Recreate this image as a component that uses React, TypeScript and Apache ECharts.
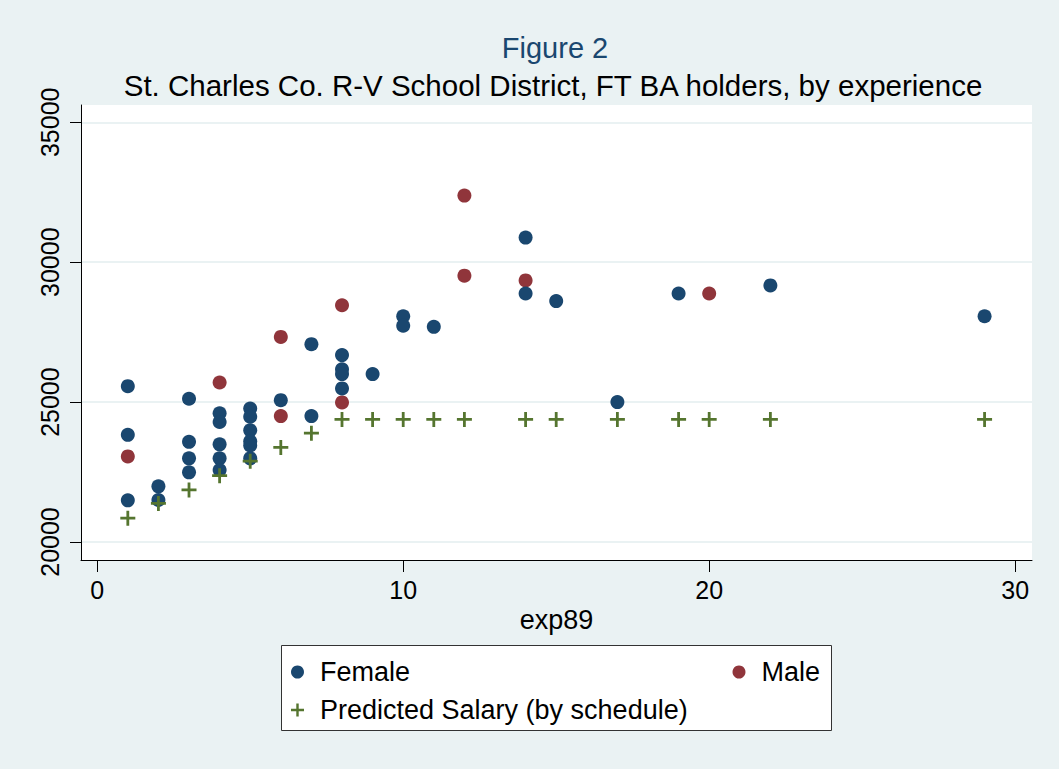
import React, { useEffect, useRef } from "react";
import * as echarts from "echarts";

const titleText = "Figure 2";
const subtitleText = "St. Charles Co. R-V School District, FT BA holders, by experience";
const xAxisName = "exp89";
const legendNames = ["Female", "Male", "Predicted Salary (by schedule)"];
const xTicks = [0, 10, 20, 30];
const yTicks = [20000, 25000, 30000, 35000];

const femalePoints: [number, number][] = [
  [1, 25570], [1, 23830], [1, 21490],
  [2, 21990], [2, 21500],
  [3, 25120], [3, 23580], [3, 22990], [3, 22490],
  [4, 24600], [4, 24290], [4, 23490], [4, 22990], [4, 22570],
  [5, 24770], [5, 24480], [5, 23990], [5, 23600], [5, 23450], [5, 22990],
  [6, 25070],
  [7, 27070], [7, 24500],
  [8, 26680], [8, 26170], [8, 26000], [8, 25490],
  [9, 26000],
  [10, 28070], [10, 27730],
  [11, 27690],
  [14, 30880], [14, 28880],
  [15, 28610],
  [17, 25000],
  [19, 28880],
  [22, 29170],
  [29, 28070],
];

const malePoints: [number, number][] = [
  [1, 23060], [4, 25700], [6, 27330], [6, 24500], [8, 28460], [8, 24990],
  [12, 32380], [12, 29520], [14, 29350], [20, 28880],
];

const predictedPoints: [number, number][] = [
  [1, 20850], [2, 21380], [3, 21860], [4, 22370], [5, 22890], [6, 23380],
  [7, 23890], [8, 24380], [9, 24380], [10, 24380], [11, 24380], [12, 24380],
  [14, 24380], [15, 24380], [17, 24380], [19, 24380], [20, 24380],
  [22, 24380], [29, 24380],
];

const FONT = "'Liberation Sans', Arial, Helvetica, sans-serif";
const PLUS = "path://M6.1,0H8.9V6.1H15V8.9H8.9V15H6.1V8.9H0V6.1H6.1Z";
const BLUE = "#1a476f";
const RED = "#90353b";
const GREEN = "#55752f";
const BG = "#eaf2f3";

export default function App() {
  const ref = useRef<HTMLDivElement>(null);

  useEffect(() => {
    if (!ref.current) return;
    const chart = echarts.init(ref.current, undefined, { renderer: "svg" });
    const legendText = { fontSize: 27, color: "#000", fontFamily: FONT, lineHeight: 27, padding: [0, 0, 0, 11] };
    chart.setOption({
      animation: false,
      backgroundColor: BG,
      textStyle: { fontFamily: FONT },
      title: [
        {
          text: titleText,
          left: 555,
          top: 33,
          textAlign: "center",
          padding: 0,
          textStyle: { fontSize: 29, fontWeight: "normal", color: BLUE, fontFamily: FONT, lineHeight: 29 },
        },
        {
          text: subtitleText,
          left: 553,
          top: 71,
          textAlign: "center",
          padding: 0,
          textStyle: { fontSize: 29.5, fontWeight: "normal", color: "#000", fontFamily: FONT, lineHeight: 29.5 },
        },
      ],
      grid: {
        left: 81,
        right: 27,
        top: 105,
        bottom: 209,
        show: true,
        backgroundColor: "#fff",
        borderWidth: 0,
      },
      xAxis: {
        type: "value",
        min: -0.53,
        max: 30.55,
        name: xAxisName,
        nameLocation: "middle",
        nameGap: 41,
        nameTextStyle: { fontSize: 27, color: "#000", fontFamily: FONT },
        axisLine: { show: true, onZero: false, lineStyle: { color: "#000", width: 1 } },
        axisTick: { show: true, length: 12, customValues: xTicks, lineStyle: { color: "#000" } },
        axisLabel: { customValues: xTicks, margin: 17, fontSize: 25, color: "#000", fontFamily: FONT, formatter: (v: number) => String(v) },
        splitLine: { show: false },
      },
      yAxis: {
        type: "value",
        min: 19357,
        max: 35618,
        axisLine: { show: true, onZero: false, lineStyle: { color: "#000", width: 1 } },
        axisTick: { show: true, length: 11, customValues: yTicks, lineStyle: { color: "#000" } },
        axisLabel: { customValues: yTicks, rotate: 90, margin: 19, fontSize: 25, color: "#000", fontFamily: FONT, formatter: (v: number) => String(v) },
        splitLine: { show: true, lineStyle: { color: BG, width: 2 } },
      },
      legend: [
        {
          data: [{ name: legendNames[0], icon: "circle" }],
          left: 291, top: 658.5, padding: 0, itemWidth: 13, itemHeight: 13,
          selectedMode: false, textStyle: legendText,
        },
        {
          data: [{ name: legendNames[1], icon: "circle" }],
          left: 732.5, top: 658.5, padding: 0, itemWidth: 13, itemHeight: 13,
          selectedMode: false, textStyle: legendText,
        },
        {
          data: [{ name: legendNames[2], icon: PLUS }],
          left: 291, top: 696.5, padding: 0, itemWidth: 13, itemHeight: 13,
          selectedMode: false, textStyle: legendText,
        },
      ],
      graphic: [
        {
          type: "rect",
          z: 0,
          shape: { x: 281.5, y: 645.5, width: 550, height: 85 },
          style: { fill: "#fff", stroke: "#333", lineWidth: 1 },
        },
      ],
      series: [
        {
          name: legendNames[1],
          type: "scatter",
          data: malePoints,
          symbol: "circle",
          symbolSize: 14,
          itemStyle: { color: RED, opacity: 1 },
          z: 2,
        },
        {
          name: legendNames[0],
          type: "scatter",
          data: femalePoints,
          symbol: "circle",
          symbolSize: 14,
          itemStyle: { color: BLUE, opacity: 1 },
          z: 3,
        },
        {
          name: legendNames[2],
          type: "scatter",
          data: predictedPoints,
          symbol: PLUS,
          symbolSize: 15,
          itemStyle: { color: GREEN, opacity: 1 },
          z: 4,
        },
      ],
    });
    return () => chart.dispose();
  }, []);

  return <div ref={ref} style={{ position: "absolute", left: 0, top: 0, width: 1059, height: 769 }} />;
}
